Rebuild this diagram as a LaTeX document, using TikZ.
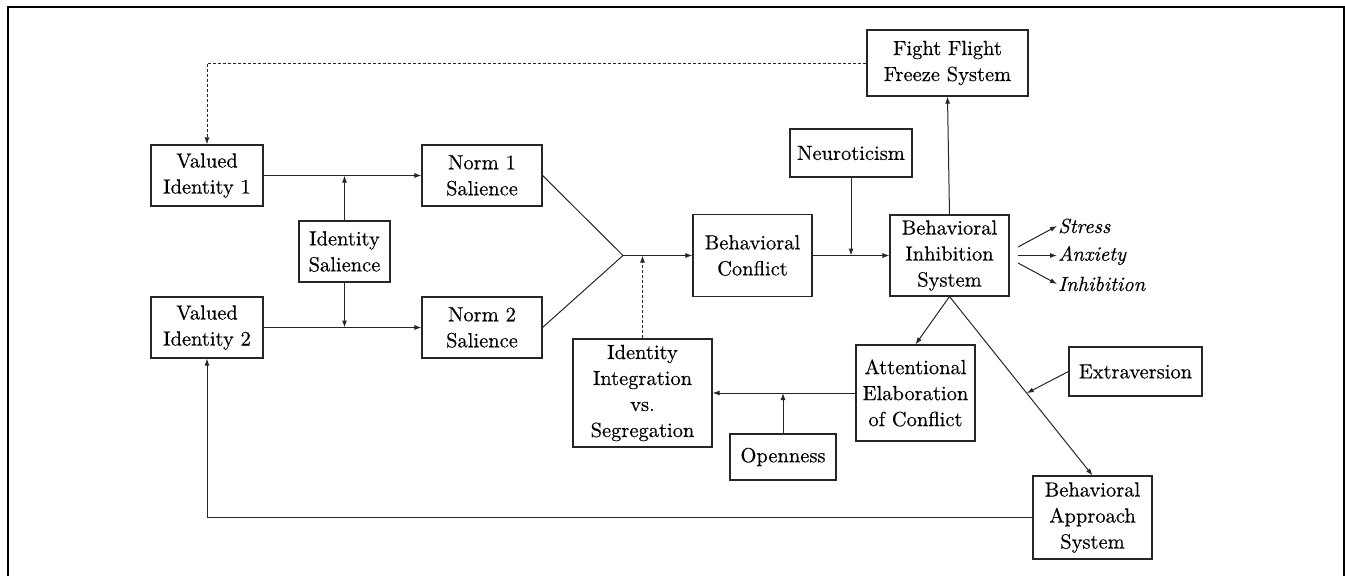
\documentclass[tikz,border=0pt]{standalone}
\usepackage{fontspec}
\setmainfont{lmroman10-regular.otf}[FakeBold=0.35,ItalicFont=lmroman10-italic.otf,ItalicFeatures={FakeBold=0.35}]
\usetikzlibrary{arrows.meta,calc}
\begin{document}
\begin{tikzpicture}[x=1pt,y=-1pt,
  box/.style={draw=black!85,line width=1.1pt,rectangle,align=center,inner sep=0pt,
    font=\fontsize{20.5}{26}\selectfont},
  lbl/.style={inner sep=1pt,anchor=west,font=\fontsize{20.5}{26}\selectfont\itshape},
  con/.style={draw=black!85,line width=1pt},
  arr/.style={con,-{Latex[length=7pt,width=5pt]}},
  dsh/.style={dash pattern=on 3pt off 2pt}]
\useasboundingbox (0,0) rectangle (1345,576);
\draw[line width=1.2pt] (8,576) -- (8,7) -- (1344,7) -- (1344,576);

\node[box,minimum width=112pt,minimum height=61pt] (VI1) at (207,175.5) {Valued\\Identity 1};
\node[box,minimum width=120pt,minimum height=61pt] (N1) at (482,175.5) {Norm 1\\Salience};
\node[box,minimum width=91pt,minimum height=61pt] (IS) at (344.5,251.5) {Identity\\Salience};
\node[box,minimum width=112pt,minimum height=61pt] (VI2) at (207,327.5) {Valued\\Identity 2};
\node[box,minimum width=120pt,minimum height=61pt] (N2) at (482,327.5) {Norm 2\\Salience};
\node[box,minimum width=139pt,minimum height=108pt] (IIS) at (642.5,393) {Identity\\Integration\\vs.\\Segregation};
\node[box,minimum width=119pt,minimum height=82pt] (BC) at (752.5,255.5) {Behavioral\\Conflict};
\node[box,minimum width=161pt,minimum height=66pt] (FFFS) at (947.5,63) {Fight Flight\\Freeze System};
\node[box,minimum width=122pt,minimum height=48pt] (NEU) at (851,153) {Neuroticism};
\node[box,minimum width=119pt,minimum height=81pt] (BIS) at (949.5,255.5) {Behavioral\\Inhibition\\System};
\node[box,minimum width=119pt,minimum height=96pt] (AEC) at (915.5,393) {Attentional\\Elaboration\\of Conflict};
\node[box,minimum width=106pt,minimum height=46pt] (OPN) at (783,457) {Openness};
\node[box,minimum width=133pt,minimum height=49pt] (EXT) at (1135.5,371.5) {Extraversion};
\node[box,minimum width=119pt,minimum height=83pt] (BAS) at (1092.5,517.5) {Behavioral\\Approach\\System};

\node[lbl] (ST) at (1057,226) {Stress};
\node[lbl] (AN) at (1057,255.5) {Anxiety};
\node[lbl] (IN) at (1057,284) {Inhibition};

\coordinate (J) at (623,255.5);
\coordinate (s1) at (1018,247);
\coordinate (s2) at (1018,255.5);
\coordinate (s3) at (1018,263);

\draw[arr] (VI1.east) -- (N1.west);
\draw[arr] (IS.north) -- (IS.north |- VI1.east);
\draw[arr] (IS.south) -- (IS.south |- VI2.east);
\draw[arr] (VI2.east) -- (N2.west);
\draw[con] (N1.east) -- (J) -- (N2.east);
\draw[arr] (J) -- (BC.west);
\draw[arr,dsh] (IIS.north) -- (IIS.north |- J);
\draw[arr] (BC.east) -- (BIS.west);
\draw[arr] (NEU.south) -- (NEU.south |- BC.east);
\draw[arr] (BIS.north) -- (FFFS.south);
\draw[arr] (s1) -- (ST.west);
\draw[arr] (s2) -- (AN.west);
\draw[arr] (s3) -- (IN.west);
\draw[arr] (BIS.south) -- (AEC.north);
\draw[arr] (BIS.south) -- (BAS.north);
\draw[arr] (EXT.west) -- ($(BIS.south)!0.54!(BAS.north)$);
\draw[arr] (AEC.west) -- (IIS.east);
\draw[arr] (OPN.north) -- (OPN.north |- AEC.west);
\draw[arr] (BAS.west) -- (VI2.south |- BAS.west) -- (VI2.south);
\draw[arr,dsh] (FFFS.west) -- (VI1.north |- FFFS.west) -- (VI1.north);
\end{tikzpicture}
\end{document}
